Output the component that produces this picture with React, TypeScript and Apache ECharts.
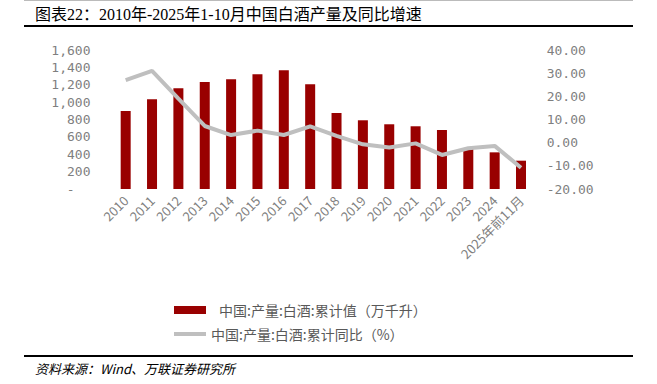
import React, { useEffect, useRef } from "react";
import * as echarts from "echarts";

const categories = [
  "2010", "2011", "2012", "2013", "2014", "2015", "2016", "2017",
  "2018", "2019", "2020", "2021", "2022", "2023", "2024", "2025年前11月",
];
const outputValues = [898, 1032, 1159, 1232, 1263, 1320, 1366, 1205, 875, 791, 745, 722, 679, 460, 422, 326];
const yoyValues = [27.0, 31.0, 19.0, 7.2, 3.3, 5.2, 3.3, 7.0, 2.9, -0.7, -2.1, -0.3, -5.3, -2.4, -1.4, -10.8];

const barName = "中国:产量:白酒:累计值（万千升）";
const lineName = "中国:产量:白酒:累计同比（%）";
const titleText = "图表22：2010年-2025年1-10月中国白酒产量及同比增速";
const sourceText = "资料来源：Wind、万联证券研究所";

const leftAxis = { min: 0, max: 1600, interval: 200 };
const rightAxis = { min: -20, max: 40, interval: 10 };

export default function App() {
  const ref = useRef<HTMLDivElement>(null);
  useEffect(() => {
    if (!ref.current) return;
    const chart = echarts.init(ref.current, undefined, { renderer: "svg" });
    const axisColor = "#7f7f7f";
    chart.setOption({
      animation: false,
      backgroundColor: "#ffffff",
      grid: { left: 112.5, right: 122.8, top: 50, bottom: 195 },
      xAxis: {
        type: "category",
        data: categories,
        axisLine: { show: false },
        axisTick: { show: false },
        axisLabel: {
          rotate: 45,
          interval: 0,
          margin: 9,
          color: axisColor,
          fontSize: 13,
          fontFamily: "'Noto Sans CJK SC', sans-serif",
        },
      },
      yAxis: [
        {
          type: "value",
          ...leftAxis,
          axisLine: { show: false },
          axisTick: { show: false },
          splitLine: { show: false },
          axisLabel: {
            margin: 22,
            color: axisColor,
            fontSize: 13,
            fontFamily: "'DejaVu Sans Mono', monospace",
            formatter: (v: number) => (v === 0 ? "{z|-}" : v.toLocaleString("en-US")),
            rich: {
              z: {
                padding: [0, 16, 0, 0],
                color: axisColor,
                fontSize: 13,
                fontFamily: "'DejaVu Sans Mono', monospace",
              },
            },
          },
        },
        {
          type: "value",
          position: "right",
          ...rightAxis,
          axisLine: { show: false },
          axisTick: { show: false },
          splitLine: { show: false },
          axisLabel: {
            margin: 12.5,
            align: "left",
            color: axisColor,
            fontSize: 13,
            fontFamily: "'DejaVu Sans Mono', monospace",
            formatter: (v: number) => v.toFixed(2),
          },
        },
      ],
      legend: [
        {
          data: [{ name: barName, icon: "rect" }],
          left: 169,
          top: 298,
          itemWidth: 32,
          itemHeight: 8,
          textStyle: {
            fontSize: 14,
            color: "#595959",
            padding: [0, 0, 0, 8],
            fontFamily: "'Noto Sans CJK SC', sans-serif",
          },
        },
        {
          data: [{ name: lineName, icon: "rect" }],
          left: 169,
          top: 322,
          itemWidth: 32,
          itemHeight: 4,
          textStyle: {
            fontSize: 14,
            color: "#595959",
            fontFamily: "'Noto Sans CJK SC', sans-serif",
          },
        },
      ],
      series: [
        {
          name: barName,
          type: "bar",
          yAxisIndex: 0,
          data: outputValues,
          barWidth: 10,
          itemStyle: { color: "#990000" },
        },
        {
          name: lineName,
          type: "line",
          yAxisIndex: 1,
          data: yoyValues,
          symbol: "none",
          lineStyle: { color: "#bfbfbf", width: 4 },
          itemStyle: { color: "#bfbfbf" },
          z: 5,
        },
      ],
      graphic: [
        {
          type: "line",
          shape: { x1: 24, y1: 0.5, x2: 633, y2: 0.5 },
          style: { stroke: "#bbbbbb", lineWidth: 1 },
        },
        {
          type: "text",
          left: 35,
          top: 6,
          style: {
            text: titleText,
            fontSize: 16,
            fill: "#000000",
            fontFamily: "'Liberation Serif', 'Noto Sans CJK SC', serif",
          },
        },
        {
          type: "line",
          shape: { x1: 24, y1: 26, x2: 633, y2: 26 },
          style: { stroke: "#000000", lineWidth: 2 },
        },
        {
          type: "line",
          shape: { x1: 24, y1: 356, x2: 633, y2: 356 },
          style: { stroke: "#000000", lineWidth: 2 },
        },
        {
          type: "text",
          left: 35,
          top: 362,
          style: {
            text: sourceText,
            fontSize: 13,
            fontStyle: "italic",
            fill: "#000000",
            fontFamily: "'Noto Sans CJK SC', sans-serif",
          },
        },
      ],
    });
    return () => chart.dispose();
  }, []);
  return (
    <div
      ref={ref}
      style={{ position: "absolute", left: 0, top: 0, width: 657, height: 384, background: "#fff" }}
    />
  );
}
